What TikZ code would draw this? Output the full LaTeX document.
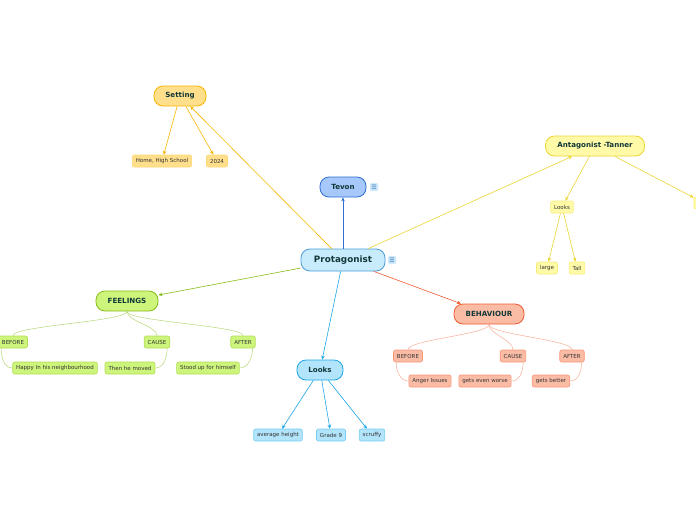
\documentclass[tikz,border=0pt]{standalone}
\usepackage{fontspec}
\setmainfont{DejaVu Sans}
\usetikzlibrary{positioning, arrows.meta}

\definecolor{ink}{HTML}{103838}
\definecolor{leafink}{HTML}{333333}
\definecolor{protfill}{HTML}{C8ECFC}
\definecolor{protline}{HTML}{4A9BD6}
\definecolor{tevfill}{HTML}{A6C8FA}
\definecolor{tevline}{HTML}{2E6FD0}
\definecolor{setfill}{HTML}{FFDF8C}
\definecolor{setline}{HTML}{F7B500}
\definecolor{antfill}{HTML}{FFFAA8}
\definecolor{antline}{HTML}{EBD530}
\definecolor{feelfill}{HTML}{CDF57C}
\definecolor{feelline}{HTML}{86BC18}
\definecolor{behfill}{HTML}{FBBCA6}
\definecolor{behline}{HTML}{F05A30}
\definecolor{lookfill}{HTML}{B2E4FB}
\definecolor{lookline}{HTML}{1DA6E8}
\definecolor{notebg}{HTML}{CDE8FB}
\definecolor{noteblue}{HTML}{2E6FB0}

\begin{document}
\begin{tikzpicture}[x=1pt,y=-1pt,
  topic/.style={draw, line width=0.8pt, rounded corners=9pt, minimum height=20pt,
    inner xsep=6pt, font=\bfseries\fontsize{7.1}{8}\selectfont, text=ink},
  leaf/.style={draw, line width=0.6pt, rounded corners=2pt, minimum height=12pt,
    inner xsep=3.5pt, inner ysep=1pt, font=\fontsize{5.5}{6}\selectfont, text=leafink},
  note/.style={fill=notebg, rounded corners=1pt, inner sep=1pt, minimum size=8pt,
    text=noteblue, font=\fontsize{6}{6}\selectfont},
  link/.style={-{Stealth[length=4pt,width=3.5pt]}, line width=0.6pt},
  twig/.style={line width=0.5pt}]
\useasboundingbox (0,0) rectangle (696,520);

% central topic
\node[topic, fill=protfill, draw=protline, minimum width=84pt, minimum height=22pt,
  font=\bfseries\fontsize{8.8}{10}\selectfont] (prot) at (343,260) {Protagonist};
\node[note] (protnote) at (392,260) {☰};
\node[topic, fill=tevfill, draw=tevline, minimum width=46pt] (tevon) at (343,187) {Tevon};
\node[note] (tevnote) at (374,187) {☰};

% setting
\node[topic, fill=setfill, draw=setline, minimum width=52pt] (setting) at (180,96) {Setting};
\node[leaf, fill=setfill, draw=setfill!80!setline] (home) at (162,161) {Home, High School};
\node[leaf, fill=setfill, draw=setfill!80!setline] (year) at (217,161) {2024};

% antagonist
\node[topic, fill=antfill, draw=antline, minimum width=99pt] (antag) at (595,146) {Antagonist -Tanner};
\node[leaf, fill=antfill, draw=antfill!60!antline] (antlooks) at (562,207) {Looks};
\node[leaf, fill=antfill, draw=antfill!60!antline] (large) at (547,268) {large};
\node[leaf, fill=antfill, draw=antfill!60!antline] (tall) at (577,268) {Tall};
\node[leaf, fill=antfill, draw=antfill!60!antline, minimum width=20pt] (antmore) at (704,203) {};

% feelings
\node[topic, fill=feelfill, draw=feelline, minimum width=62pt] (feel) at (127,301) {FEELINGS};
\node[leaf, fill=feelfill, draw=feelfill!60!feelline] (fbefore) at (13,342) {BEFORE};
\node[leaf, fill=feelfill, draw=feelfill!60!feelline] (fcause) at (157,342) {CAUSE};
\node[leaf, fill=feelfill, draw=feelfill!60!feelline] (fafter) at (243,342) {AFTER};
\node[leaf, fill=feelfill, draw=feelfill!60!feelline] (fhappy) at (55,368) {Happy In his neighbourhood};
\node[leaf, fill=feelfill, draw=feelfill!60!feelline] (fmoved) at (130,368) {Then he moved};
\node[leaf, fill=feelfill, draw=feelfill!60!feelline] (fstood) at (208,368) {Stood up for himself};

% behaviour
\node[topic, fill=behfill, draw=behline, minimum width=70pt] (beh) at (489,314) {BEHAVIOUR};
\node[leaf, fill=behfill, draw=behfill!60!behline] (bbefore) at (408,356) {BEFORE};
\node[leaf, fill=behfill, draw=behfill!60!behline] (bcause) at (513,356) {CAUSE};
\node[leaf, fill=behfill, draw=behfill!60!behline] (bafter) at (572,356) {AFTER};
\node[leaf, fill=behfill, draw=behfill!60!behline] (banger) at (430,381) {Anger Issues};
\node[leaf, fill=behfill, draw=behfill!60!behline] (bworse) at (485,381) {gets even worse};
\node[leaf, fill=behfill, draw=behfill!60!behline] (bbetter) at (551,381) {gets better};

% looks
\node[topic, fill=lookfill, draw=lookline, minimum width=46pt] (looks) at (320,370) {Looks};
\node[leaf, fill=lookfill, draw=lookfill!60!lookline] (avg) at (278,435) {average height};
\node[leaf, fill=lookfill, draw=lookfill!60!lookline] (grade) at (331,435) {Grade 9};
\node[leaf, fill=lookfill, draw=lookfill!60!lookline] (scruffy) at (372,435) {scruffy};

% arrows
\draw[link, tevline] (prot) -- (tevon);
\draw[link, setline] (prot) -- (setting);
\draw[link, setline] (setting) -- (home);
\draw[link, setline] (setting) -- (year);
\draw[link, antline] (prot) -- (antag);
\draw[link, antline] (antag) -- (antlooks);
\draw[link, antline] (antag) -- (antmore);
\draw[link, antline] (antlooks) -- (large);
\draw[link, antline] (antlooks) -- (tall);
\draw[link, feelline] (prot) -- (feel);
\draw[link, behline] (prot) -- (beh);
\draw[link, lookline] (prot) -- (looks);
\draw[link, lookline] (looks) -- (avg);
\draw[link, lookline] (looks) -- (grade);
\draw[link, lookline] (looks) -- (scruffy);

% curved branches
\draw[twig, feelline!60] (feel.south) .. controls +(0,10) and +(0,-10) .. (fbefore.north);
\draw[twig, feelline!60] (feel.south) .. controls +(0,10) and +(0,-10) .. (fcause.north);
\draw[twig, feelline!60] (feel.south) .. controls +(0,10) and +(0,-10) .. (fafter.north);
\draw[twig, feelline!60] ([xshift=3pt]fbefore.south west) .. controls +(0,10) and +(-8,0) .. (fhappy.west);
\draw[twig, feelline!60] ([xshift=-3pt]fcause.south east) .. controls +(0,10) and +(8,0) .. (fmoved.east);
\draw[twig, feelline!60] ([xshift=-3pt]fafter.south east) .. controls +(0,10) and +(8,0) .. (fstood.east);
\draw[twig, behline!50] (beh.south) .. controls +(0,10) and +(0,-10) .. (bbefore.north);
\draw[twig, behline!50] (beh.south) .. controls +(0,10) and +(0,-10) .. (bcause.north);
\draw[twig, behline!50] (beh.south) .. controls +(0,10) and +(0,-10) .. (bafter.north);
\draw[twig, behline!50] ([xshift=3pt]bbefore.south west) .. controls +(0,10) and +(-8,0) .. (banger.west);
\draw[twig, behline!50] ([xshift=-3pt]bcause.south east) .. controls +(0,10) and +(8,0) .. (bworse.east);
\draw[twig, behline!50] ([xshift=-3pt]bafter.south east) .. controls +(0,10) and +(8,0) .. (bbetter.east);
\end{tikzpicture}
\end{document}
